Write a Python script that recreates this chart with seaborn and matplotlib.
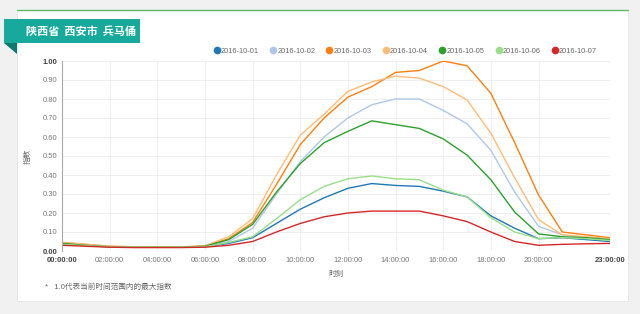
import matplotlib
matplotlib.use("Agg")
import matplotlib.pyplot as plt
import seaborn as sns
import pandas as pd
import numpy as np
from matplotlib.patches import Rectangle, Polygon
from matplotlib.lines import Line2D

sns.set_theme(style="white")
plt.rcParams['font.family'] = ['Liberation Sans', 'Noto Sans CJK SC', 'DejaVu Sans']

hours = list(range(24))
dates = ["2016-10-01", "2016-10-02", "2016-10-03", "2016-10-04",
         "2016-10-05", "2016-10-06", "2016-10-07"]

s_1001 = [0.035, 0.028, 0.022, 0.02, 0.02, 0.02, 0.022, 0.04, 0.07, 0.145, 0.22, 0.28,
          0.33, 0.355, 0.345, 0.34, 0.315, 0.285, 0.185, 0.12, 0.065, 0.07, 0.06, 0.05]
s_1002 = [0.04, 0.03, 0.022, 0.02, 0.02, 0.02, 0.025, 0.05, 0.12, 0.30, 0.47, 0.60,
          0.70, 0.77, 0.80, 0.80, 0.74, 0.67, 0.53, 0.31, 0.13, 0.085, 0.07, 0.06]
s_1003 = [0.045, 0.035, 0.025, 0.022, 0.022, 0.022, 0.025, 0.065, 0.15, 0.35, 0.56, 0.70,
          0.81, 0.865, 0.94, 0.95, 1.00, 0.975, 0.83, 0.57, 0.295, 0.10, 0.085, 0.07]
s_1004 = [0.045, 0.035, 0.025, 0.022, 0.022, 0.022, 0.028, 0.075, 0.17, 0.40, 0.61, 0.72,
          0.84, 0.89, 0.92, 0.91, 0.865, 0.795, 0.62, 0.385, 0.165, 0.085, 0.075, 0.065]
s_1005 = [0.04, 0.03, 0.022, 0.02, 0.02, 0.02, 0.025, 0.06, 0.14, 0.31, 0.46, 0.57,
          0.63, 0.685, 0.665, 0.645, 0.59, 0.505, 0.375, 0.205, 0.09, 0.075, 0.07, 0.06]
s_1006 = [0.035, 0.028, 0.022, 0.02, 0.02, 0.02, 0.022, 0.045, 0.075, 0.17, 0.27, 0.34,
          0.38, 0.395, 0.38, 0.375, 0.32, 0.285, 0.175, 0.10, 0.065, 0.07, 0.065, 0.055]
s_1007 = [0.03, 0.025, 0.02, 0.018, 0.018, 0.018, 0.02, 0.03, 0.05, 0.10, 0.145, 0.18,
          0.20, 0.21, 0.21, 0.21, 0.185, 0.155, 0.10, 0.05, 0.03, 0.035, 0.038, 0.04]

tick_hours = [0, 2, 4, 6, 8, 10, 12, 14, 16, 18, 20, 23]
tick_labels = ["00:00:00", "02:00:00", "04:00:00", "06:00:00", "08:00:00", "10:00:00",
               "12:00:00", "14:00:00", "16:00:00", "18:00:00", "20:00:00", "23:00:00"]
y_ticks = [0.0, 0.1, 0.2, 0.3, 0.4, 0.5, 0.6, 0.7, 0.8, 0.9, 1.0]

title_text = "陕西省  西安市  兵马俑"
x_label = "时刻"
y_label = "指数"
footnote = "*   1.0代表当前时间范围内的最大指数"

colors = ["#1f77b4", "#aec7e8", "#ff7f0e", "#ffbb78", "#2ca02c", "#98df8a", "#d62728"]

series = [s_1001, s_1002, s_1003, s_1004, s_1005, s_1006, s_1007]
frames = [pd.DataFrame({"hour": hours, "value": s, "date": d}) for s, d in zip(series, dates)]
df = pd.concat(frames, ignore_index=True)

W, H = 640, 314
fig = plt.figure(figsize=(W / 100, H / 100), dpi=100)
fig.patch.set_facecolor("#f1f1f1")

# card
card = Rectangle((17 / W, 1 - 301 / H), (628 - 17) / W, (301 - 10) / H,
                 transform=fig.transFigure, facecolor="white", edgecolor="#e4e4e4",
                 linewidth=0.6, zorder=-10)
fig.patches.append(card)
fig.add_artist(Line2D([17 / W, 628 / W], [1 - 10 / H, 1 - 10 / H], transform=fig.transFigure,
                      color="#5cb85c", linewidth=1.0, zorder=-9))

# ribbon
ribbon = Rectangle((4 / W, 1 - 43 / H), (140 - 4) / W, (43 - 19) / H,
                   transform=fig.transFigure, facecolor="#17a99c", edgecolor="none", zorder=3)
fig.patches.append(ribbon)
fold = Polygon([(4 / W, 1 - 43 / H), (17 / W, 1 - 43 / H), (17 / W, 1 - 54 / H)],
               closed=True, transform=fig.transFigure, facecolor="#0d7a70",
               edgecolor="none", zorder=3)
fig.patches.append(fold)
fig.text(26 / W, 1 - 31.5 / H, title_text, color="white", fontsize=8.0, fontweight="bold",
         va="center", ha="left", zorder=4, family=['Noto Sans CJK SC', 'DejaVu Sans'])

ax = fig.add_axes([62 / W, 1 - 251 / H, (610 - 62) / W, (251 - 61) / H])
ax.set_facecolor("white")
ax.set_zorder(1)
sns.lineplot(data=df, x="hour", y="value", hue="date", palette=colors, linewidth=1.0,
             ax=ax, legend=False)

ax.set_xlim(0, 23)
ax.set_ylim(0, 1)
ax.set_xticks(tick_hours)
ax.set_xticklabels(tick_labels)
ax.set_yticks(y_ticks)
ax.set_yticklabels([f"{v:.2f}" for v in y_ticks])
ax.tick_params(axis="both", labelsize=5.5, colors="#777777", length=0, pad=3)
ax.tick_params(axis="x", pad=4)
for lab in list(ax.get_xticklabels()) + list(ax.get_yticklabels()):
    if lab.get_text() in ("00:00:00", "23:00:00", "0.00", "1.00"):
        lab.set_fontweight("bold")
        lab.set_color("#444444")

ax.grid(True, color="#ececec", linewidth=0.6)
ax.set_axisbelow(True)
for sp in ["top", "right", "bottom"]:
    ax.spines[sp].set_visible(False)
ax.spines["left"].set_color("#aaaaaa")
ax.spines["left"].set_linewidth(0.8)

ax.set_xlabel(x_label, fontsize=5.5, color="#666666", labelpad=5)
ax.set_ylabel(y_label, fontsize=5.5, color="#666666", labelpad=8)

handles = [Line2D([0], [0], marker="o", linestyle="none", markersize=4.5,
                  markerfacecolor=c, markeredgecolor=c) for c in colors]
fig.legend(handles, dates, loc="center left", bbox_to_anchor=(213 / W, 1 - 51 / H),
           ncol=7, frameon=False, fontsize=5.3, handletextpad=0.05, columnspacing=1.45,
           borderaxespad=0, borderpad=0, handlelength=1.0, labelcolor="#666666")

fig.text(45 / W, 1 - 287 / H, footnote, fontsize=5.5, color="#666666", va="center",
         ha="left")

fig.savefig("out.png", dpi=100)
